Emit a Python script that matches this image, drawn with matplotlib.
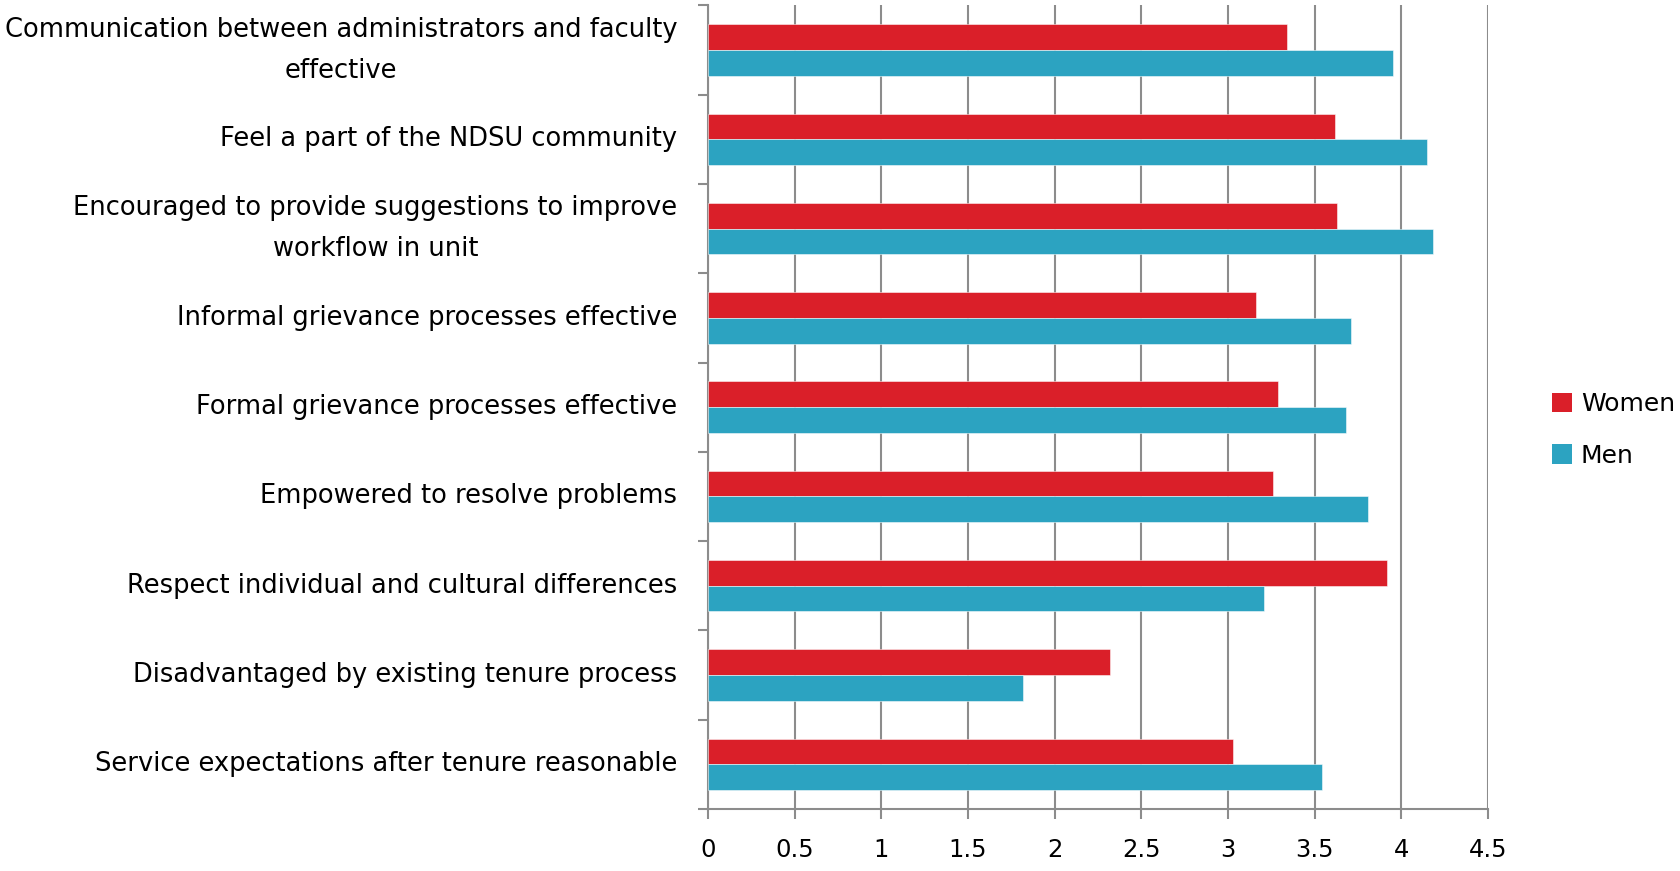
import matplotlib
matplotlib.use("Agg")
import matplotlib.pyplot as plt
import numpy as np
from matplotlib.patches import Patch

categories = [
    "Communication between administrators and faculty\neffective",
    "Feel a part of the NDSU community",
    "Encouraged to provide suggestions to improve\nworkflow in unit",
    "Informal grievance processes effective",
    "Formal grievance processes effective",
    "Empowered to resolve problems",
    "Respect individual and cultural differences",
    "Disadvantaged by existing tenure process",
    "Service expectations after tenure reasonable",
]
women = [3.34, 3.62, 3.63, 3.16, 3.29, 3.26, 3.92, 2.32, 3.03]
men = [3.95, 4.15, 4.18, 3.71, 3.68, 3.81, 3.21, 1.82, 3.54]
xticks = [0, 0.5, 1, 1.5, 2, 2.5, 3, 3.5, 4, 4.5]
xticklabels = ["0", "0.5", "1", "1.5", "2", "2.5", "3", "3.5", "4", "4.5"]

red = "#DA1F29"
blue = "#2CA3C1"
grid_c = "#8C8C8C"

plt.rcParams['font.family'] = ['DejaVu Sans']

fig = plt.figure(figsize=(16.8, 8.71), dpi=100)
ax = fig.add_axes([708/1680, 1 - 809/871, (1488-708)/1680, (809-5.4)/871])

y = np.arange(len(categories))
h = 0.288
ax.barh(y - h/2, women, height=h, color=red, edgecolor=(1, 1, 1, 0.6), linewidth=0.6, zorder=3, label="Women")
ax.barh(y + h/2, men, height=h, color=blue, edgecolor=(1, 1, 1, 0.6), linewidth=0.6, zorder=3, label="Men")

ax.set_xlim(0, 4.5)
ax.set_ylim(len(categories) - 0.5, -0.5)
ax.set_xticks(xticks)
ax.set_xticklabels(xticklabels, fontsize=17.5)

ax.set_yticks(y)
ax.set_yticklabels(categories, fontsize=18.5, ha='right', va='center',
                   multialignment='center', linespacing=1.75)
ax.set_yticks(np.arange(len(categories) + 1) - 0.5, minor=True)
ax.tick_params(axis='y', which='major', length=0, pad=22)
ax.tick_params(axis='y', which='minor', length=7, width=1.5, color=grid_c, direction='out')
ax.tick_params(axis='x', which='major', length=7, width=1.5, color=grid_c, direction='out', pad=14)

ax.grid(axis='x', color=grid_c, linewidth=1.5, zorder=0)
ax.set_axisbelow(True)
for s in ['top', 'right']:
    ax.spines[s].set_visible(False)
for s in ['left', 'bottom']:
    ax.spines[s].set_color(grid_c)
    ax.spines[s].set_linewidth(1.5)

handles = [Patch(facecolor=red, label="Women"), Patch(facecolor=blue, label="Men")]
fig.legend(handles=handles, loc='center left', bbox_to_anchor=(1552/1680, 1 - 430/871),
           bbox_transform=fig.transFigure, frameon=False, fontsize=18,
           handlelength=0.8, handleheight=0.8, handletextpad=0.35, labelspacing=1.1,
           borderpad=0, borderaxespad=0)

fig.savefig("out.png", dpi=100)
